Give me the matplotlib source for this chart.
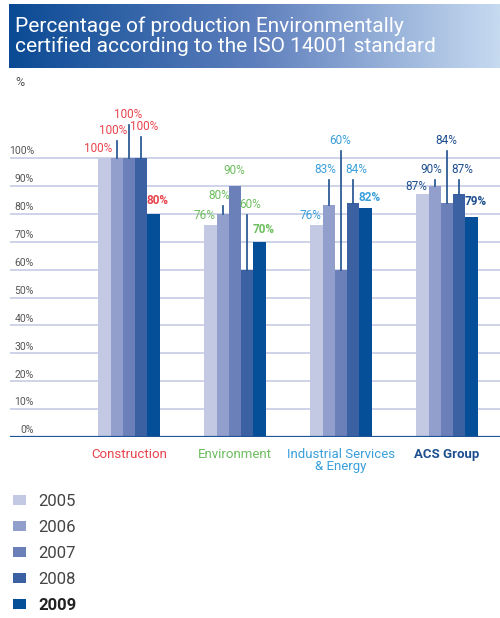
# Percentage of production environmentally certified (ISO 14001)

import numpy as np
import matplotlib
matplotlib.use('Agg')
import matplotlib.pyplot as plt
from matplotlib.colors import LinearSegmentedColormap

plt.rcParams['font.family'] = ['Roboto', 'DejaVu Sans']

categories = ['Construction', 'Environment', 'Industrial Services\n& Energy', 'ACS Group']
cat_colors = ['#e8434d', '#6cbd5e', '#3a9fdb', '#1d4f8e']
years = ['2005', '2006', '2007', '2008', '2009']
year_colors = ['#c3c8e3', '#929fcc', '#6b7fb8', '#3c61a3', '#044f98']

v2005 = [100, 76, 76, 87]
v2006 = [100, 80, 83, 90]
v2007 = [100, 90, 60, 84]
v2008 = [100, 60, 84, 87]
v2009 = [80, 70, 82, 79]
values = [v2005, v2006, v2007, v2008, v2009]

# height of each value label above its bar (one row per category)
label_lift = [[1, 7.5, 13.3, 9, 2.4],
              [1, 4.2, 3.2, 21, 2],
              [1, 10.5, 44, 9.5, 1.5],
              [0.5, 3.5, 20, 6.5, 3]]
label_dx = [-0.057, -0.03, -0.01, 0.03, 0.04]

W, H = 500, 618
fig = plt.figure(figsize=(5, 6.18), dpi=100)

def px(x0, y0, x1, y1):
    # pixel box -> figure fraction rect
    return [x0 / W, 1 - y1 / H, (x1 - x0) / W, (y1 - y0) / H]

# title banner with gradient
bax = fig.add_axes(px(9, 4, 500, 68))
cmap = LinearSegmentedColormap.from_list('band', ['#0a4a94', '#5e7fbd', '#c6daf0'])
bax.imshow(np.linspace(0, 1, 256)[None, :], aspect='auto', cmap=cmap, extent=[0, 1, 0, 1])
bax.set_axis_off()
bax.text(0.012, 0.5, 'Percentage of production Environmentally\ncertified according to the ISO 14001 standard',
         color='white', fontsize=15, va='center', ha='left', linespacing=1.0)

fig.text(15 / W, 1 - 83 / H, '%', fontsize=9, color='#555555', va='center')

# main chart
ax = fig.add_axes(px(10, 100, 500, 437))
ppu = 106.0
ax.set_xlim(-(129 - 10) / ppu, 3 + (500 - 447) / ppu)
ax.set_ylim(0, (437 - 100) / 2.79)

x = np.arange(len(categories))
w = 12.3 / ppu
for g in range(0, 101, 10):
    ax.axhline(g, color='#c6cce4', lw=1.2, zorder=0)
ax.axhline(0, color='#1f5596', lw=1.6, zorder=3)

bars = []
for i, yr in enumerate(years):
    xs = x + (i - 2) * w
    b = ax.bar(xs, values[i], w, color=year_colors[i], label=yr, zorder=2)
    bars.append(b)
    for j in range(len(categories)):
        v = values[i][j]
        lift = label_lift[j][i]
        ty = v + lift
        if lift >= 3.4:
            ax.plot([xs[j], xs[j]], [v, ty - 1.5], color='#1d4f8e', lw=1.2, zorder=3)
        ax.text(xs[j] + label_dx[i], ty, f'{v}%', ha='center', va='bottom', fontsize=8.5,
                color=cat_colors[j], fontweight='bold' if i == 4 else 'normal')

for g in range(0, 101, 10):
    ax.text(24 / 490, g + 0.6, f'{g}%', transform=ax.get_yaxis_transform(),
            ha='right', va='bottom', fontsize=7.5, color='#555555')

ax.set_xticks(x, categories)
ax.tick_params(axis='x', length=0, pad=8, labelsize=9.5)
ax.tick_params(axis='y', left=False, labelleft=False)
for lbl, c in zip(ax.get_xticklabels(), cat_colors):
    lbl.set_color(c)
    lbl.set_linespacing(0.9)
ax.get_xticklabels()[3].set_fontweight('bold')
for s in ax.spines.values():
    s.set_visible(False)

leg = fig.legend(handles=bars, loc='upper left', bbox_to_anchor=(13 / W, 1 - 494 / H),
                 frameon=False, fontsize=12, handlelength=0.8, handleheight=0.6,
                 labelspacing=0.66, handletextpad=0.7, borderpad=0, borderaxespad=0)
for t in leg.get_texts():
    t.set_color('#444444')
leg.get_texts()[4].set_fontweight('bold')
leg.get_texts()[4].set_color('#222222')

plt.savefig('out.png', dpi=100)
